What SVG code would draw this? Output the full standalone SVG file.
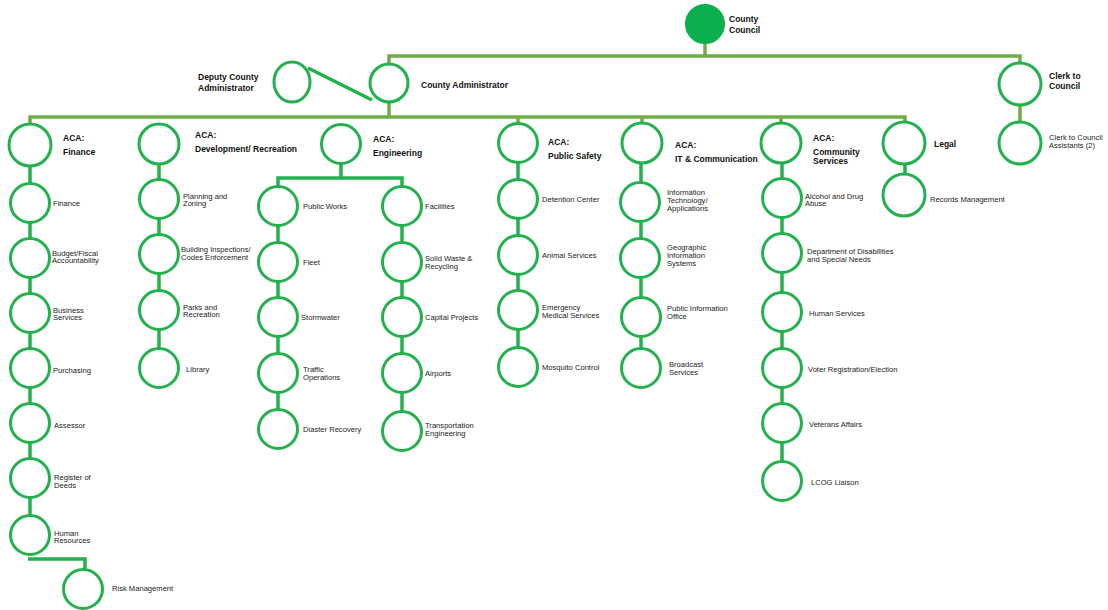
<svg xmlns="http://www.w3.org/2000/svg" width="1108" height="610" viewBox="0 0 1108 610">
<style>
.c{fill:#fff;stroke:#22b14c;stroke-width:3}
.f{fill:#0ab04e;stroke:#0ab04e;stroke-width:2}
.t{font-family:"Liberation Sans",Arial,sans-serif;font-size:8.5px;font-weight:bold;fill:#111}
.s{font-family:"Liberation Sans",Arial,sans-serif;font-size:7.6px;fill:#222}
.o{fill:none;stroke:#70ad47;stroke-width:3.5}
.g{fill:none;stroke:#22b14c;stroke-width:3.5}
</style>
<rect width="1108" height="610" fill="#fff"/>
<g id="connectors">
<path class="o" d="M705,44V56M389,64V56H1020V64M1020,105V122"/>
<path class="o" d="M389,102V116M30,124V117H905V124M518,117V124M642,117V124M781,117V124"/>
<path class="g" d="M308,68L372,100"/>
<path class="g" d="M30,145V535M28,559H85V570"/>
<path class="g" d="M159,144V368"/>
<path class="g" d="M341,144V178M278,206V178H402V206M278,206V429M402,206V431"/>
<path class="g" d="M518,143V367"/>
<path class="g" d="M641,143V368"/>
<path class="g" d="M782,143V481"/>
<path class="g" d="M905,143V195"/>
</g>
<g id="county-council"><circle class="f" cx="705" cy="24" r="19"/><text class="t" x="729" y="22">County</text><text class="t" x="729" y="33">Council</text></g>
<g id="deputy"><ellipse class="c" cx="292" cy="82" rx="18" ry="20"/><text class="t" x="198" y="80">Deputy County</text><text class="t" x="198" y="91">Administrator</text></g>
<g id="county-admin"><circle class="c" cx="389" cy="83" r="19"/><text class="t" x="421" y="88">County Administrator</text></g>
<g id="clerk"><circle class="c" cx="1020" cy="84" r="21"/><text class="t" x="1049" y="79">Clerk to</text><text class="t" x="1049" y="89">Council</text></g>
<g id="clerk-assistants"><circle class="c" cx="1020" cy="143" r="21"/><text class="s" x="1049" y="140">Clerk to Council</text><text class="s" x="1049" y="148">Assistants (2)</text></g>

<g id="aca-finance"><circle class="c" cx="30" cy="145" r="21"/><text class="t" x="63" y="141">ACA:</text><text class="t" x="63" y="155">Finance</text></g>
<g id="finance"><circle class="c" cx="30" cy="203" r="19.5"/><text class="s" x="53" y="206">Finance</text></g>
<g id="budget"><circle class="c" cx="30" cy="258" r="19.5"/><text class="s" x="52" y="256">Budget/Fiscal</text><text class="s" x="52" y="263">Accountability</text></g>
<g id="business"><circle class="c" cx="30" cy="313" r="19.5"/><text class="s" x="53" y="313">Business</text><text class="s" x="53" y="320">Services</text></g>
<g id="purchasing"><circle class="c" cx="30" cy="368" r="19.5"/><text class="s" x="53" y="373">Purchasing</text></g>
<g id="assessor"><circle class="c" cx="30" cy="423" r="19.5"/><text class="s" x="54" y="428">Assessor</text></g>
<g id="register"><circle class="c" cx="30" cy="478" r="19.5"/><text class="s" x="54" y="480">Register of</text><text class="s" x="54" y="488">Deeds</text></g>
<g id="hr"><circle class="c" cx="30" cy="535" r="19.5"/><text class="s" x="54" y="536">Human</text><text class="s" x="54" y="543">Resources</text></g>
<g id="risk"><circle class="c" cx="83" cy="589" r="19.5"/><text class="s" x="112" y="591">Risk Management</text></g>

<g id="aca-dev"><circle class="c" cx="159" cy="144" r="20"/><text class="t" x="195" y="138">ACA:</text><text class="t" x="195" y="152">Development/ Recreation</text></g>
<g id="planning"><circle class="c" cx="159" cy="199" r="19.5"/><text class="s" x="183" y="199">Planning and</text><text class="s" x="183" y="206">Zoning</text></g>
<g id="building"><circle class="c" cx="159" cy="254" r="19.5"/><text class="s" x="181" y="252">Building Inspections/</text><text class="s" x="181" y="260">Codes Enforcement</text></g>
<g id="parks"><circle class="c" cx="159" cy="310" r="19.5"/><text class="s" x="183" y="310">Parks and</text><text class="s" x="183" y="317">Recreation</text></g>
<g id="library"><circle class="c" cx="159" cy="368" r="19.5"/><text class="s" x="186" y="372">Library</text></g>

<g id="aca-eng"><circle class="c" cx="341" cy="144" r="19.5"/><text class="t" x="373" y="142">ACA:</text><text class="t" x="373" y="156">Engineering</text></g>
<g id="public-works"><circle class="c" cx="278" cy="206" r="19.5"/><text class="s" x="303" y="209">Public Works</text></g>
<g id="fleet"><circle class="c" cx="278" cy="262" r="19.5"/><text class="s" x="303" y="265">Fleet</text></g>
<g id="stormwater"><circle class="c" cx="278" cy="317" r="19.5"/><text class="s" x="301" y="320">Stormwater</text></g>
<g id="traffic"><circle class="c" cx="278" cy="373" r="19.5"/><text class="s" x="303" y="372">Traffic</text><text class="s" x="303" y="380">Operations</text></g>
<g id="disaster"><circle class="c" cx="278" cy="429" r="19.5"/><text class="s" x="303" y="432">Diaster Recovery</text></g>
<g id="facilities"><circle class="c" cx="402" cy="206" r="19.5"/><text class="s" x="425" y="209">Facilities</text></g>
<g id="solid-waste"><circle class="c" cx="402" cy="262" r="19.5"/><text class="s" x="425" y="261">Solid Waste &amp;</text><text class="s" x="425" y="269">Recycling</text></g>
<g id="capital"><circle class="c" cx="402" cy="317" r="19.5"/><text class="s" x="425" y="320">Capital Projects</text></g>
<g id="airports"><circle class="c" cx="402" cy="373" r="19.5"/><text class="s" x="425" y="376">Airports</text></g>
<g id="transportation"><circle class="c" cx="402" cy="431" r="19.5"/><text class="s" x="425" y="428">Transportation</text><text class="s" x="425" y="436">Engineering</text></g>

<g id="aca-safety"><circle class="c" cx="518" cy="143" r="19.5"/><text class="t" x="548" y="145">ACA:</text><text class="t" x="548" y="159">Public Safety</text></g>
<g id="detention"><circle class="c" cx="518" cy="199" r="19.5"/><text class="s" x="542" y="202">Detention Center</text></g>
<g id="animal"><circle class="c" cx="518" cy="255" r="19.5"/><text class="s" x="542" y="258">Animal Services</text></g>
<g id="ems"><circle class="c" cx="518" cy="310" r="19.5"/><text class="s" x="542" y="310">Emergency</text><text class="s" x="542" y="318">Medical Services</text></g>
<g id="mosquito"><circle class="c" cx="518" cy="367" r="19.5"/><text class="s" x="542" y="370">Mosquito Control</text></g>

<g id="aca-it"><circle class="c" cx="642" cy="143" r="20"/><text class="t" x="675" y="148">ACA:</text><text class="t" x="675" y="162">IT &amp; Communication</text></g>
<g id="info-tech"><circle class="c" cx="640" cy="202" r="19.5"/><text class="s" x="667" y="195">Information</text><text class="s" x="667" y="203">Technology/</text><text class="s" x="667" y="211">Applications</text></g>
<g id="gis"><circle class="c" cx="640" cy="258" r="19.5"/><text class="s" x="667" y="250">Geographic</text><text class="s" x="667" y="258">Information</text><text class="s" x="667" y="266">Systems</text></g>
<g id="pio"><circle class="c" cx="641" cy="317" r="19.5"/><text class="s" x="667" y="311">Public Information</text><text class="s" x="667" y="319">Office</text></g>
<g id="broadcast"><circle class="c" cx="641" cy="368" r="19.5"/><text class="s" x="669" y="367">Broadcast</text><text class="s" x="669" y="375">Services</text></g>

<g id="aca-community"><circle class="c" cx="781" cy="143" r="20"/><text class="t" x="813" y="141">ACA:</text><text class="t" x="813" y="155">Community</text><text class="t" x="813" y="164">Services</text></g>
<g id="alcohol"><circle class="c" cx="782" cy="198" r="19.5"/><text class="s" x="805" y="199">Alcohol and Drug</text><text class="s" x="805" y="206">Abuse</text></g>
<g id="disabilities"><circle class="c" cx="782" cy="253" r="19.5"/><text class="s" x="807" y="254">Department of Disabilities</text><text class="s" x="807" y="262">and Special Needs</text></g>
<g id="human-services"><circle class="c" cx="782" cy="312" r="19.5"/><text class="s" x="809" y="316">Human Services</text></g>
<g id="voter"><circle class="c" cx="782" cy="368" r="19.5"/><text class="s" x="808" y="372">Voter Registration/Election</text></g>
<g id="veterans"><circle class="c" cx="782" cy="423" r="19.5"/><text class="s" x="809" y="427">Veterans Affairs</text></g>
<g id="lcog"><circle class="c" cx="782" cy="481" r="19.5"/><text class="s" x="811" y="485">LCOG Liaison</text></g>

<g id="legal"><circle class="c" cx="904" cy="143" r="21"/><text class="t" x="934" y="147">Legal</text></g>
<g id="records"><circle class="c" cx="904" cy="195" r="21"/><text class="s" x="930" y="202">Records Management</text></g>
</svg>
